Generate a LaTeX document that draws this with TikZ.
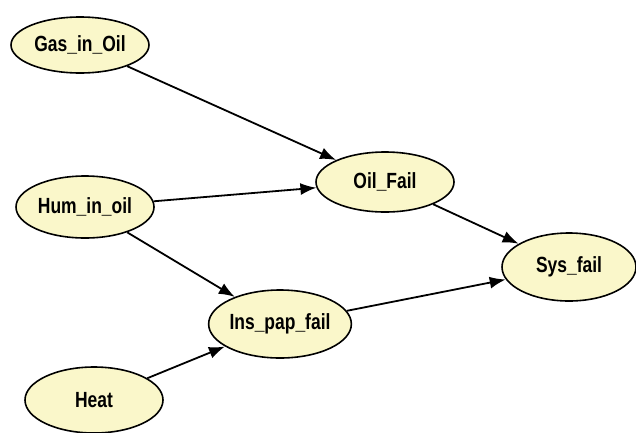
\documentclass[tikz,border=0pt]{standalone}
\usepackage{fontspec}
\usepackage{graphicx}
\setmainfont{Liberation Sans}
\usetikzlibrary{shapes.geometric,arrows.meta}
\definecolor{nodefill}{RGB}{250,247,202}
\newcommand{\varlabel}[1]{\scalebox{0.97}[1.22]{#1}}
\begin{document}
\begin{tikzpicture}[
  x=1pt, y=-1pt,
  var/.style={ellipse, draw, line width=1.6pt, fill=nodefill, minimum width=138pt, minimum height=66pt, inner sep=0pt, font=\fontsize{18}{20}\selectfont\bfseries},
  link/.style={-{Latex[length=16pt,width=12pt]}, line width=1.8pt}
]
\useasboundingbox (0,0) rectangle (636,432);

% Nodes
\node[var, minimum height=56pt] (gas) at (80,45) {\varlabel{Gas\_in\_Oil}};
\node[var, minimum height=62pt] (hum) at (85,207) {\varlabel{Hum\_in\_oil}};
\node[var] (heat) at (94,400) {\varlabel{Heat}};
\node[var, minimum height=60pt] (oil) at (385,182) {\varlabel{Oil\_Fail}};
\node[var, minimum height=68pt] (ins) at (280,324) {\varlabel{Ins\_pap\_fail}};
\node[var, minimum width=134pt, minimum height=68pt] (sys) at (569,267) {\varlabel{Sys\_fail}};

% Arrows
\draw[link] (gas) -- (oil);
\draw[link] (hum) -- (oil);
\draw[link] (hum) -- (ins);
\draw[link] (heat) -- (ins);
\draw[link] (oil) -- (sys);
\draw[link] (ins) -- (sys);

\end{tikzpicture}
\end{document}
